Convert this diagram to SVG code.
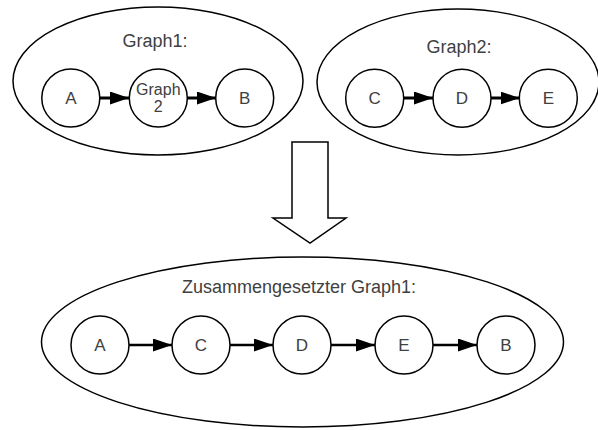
<svg xmlns="http://www.w3.org/2000/svg" width="598" height="430" viewBox="0 0 598 430">
<defs>
<style>
.ell{fill:none;stroke:#000;stroke-width:1.5}
.node circle{fill:#fff;stroke:#000;stroke-width:1.5}
text{font-family:"Liberation Sans",Arial,sans-serif;fill:#404040;text-anchor:middle}
.title{font-size:18px}
.lbl{font-size:17px}
.small{font-size:16px}
.conn{stroke:#000;stroke-width:3;fill:none}
.conn2{stroke:#000;stroke-width:2.5;fill:none}
</style>
<marker id="ah" markerUnits="userSpaceOnUse" markerWidth="20" markerHeight="14" refX="19" refY="6.5" orient="auto">
<path d="M0,0 L19,6.5 L0,13 z" fill="#000"/>
</marker>
</defs>
<rect width="598" height="430" fill="#fff"/>

<g id="graph1">
<ellipse class="ell" cx="158" cy="81" rx="145" ry="74"/>
<text class="title" x="155" y="47">Graph1:</text>
</g>
<g id="graph2">
<ellipse class="ell" cx="458" cy="82" rx="141" ry="73"/>
<text class="title" x="459" y="53">Graph2:</text>
</g>
<g id="composite">
<ellipse class="ell" cx="302.5" cy="342" rx="261" ry="85"/>
<text class="title" x="299" y="293">Zusammengesetzter Graph1:</text>
</g>

<g id="bigarrow">
<path d="M292,142 H328 V218 H346 L310,243 L273,218 H292 Z" fill="#fff" stroke="#000" stroke-width="1.5" stroke-linejoin="miter"/>
</g>

<g id="connectors">
<line class="conn" x1="100" y1="98" x2="129" y2="98" marker-end="url(#ah)"/>
<line class="conn" x1="187" y1="98" x2="216" y2="98" marker-end="url(#ah)"/>
<line class="conn" x1="404" y1="98" x2="433" y2="98" marker-end="url(#ah)"/>
<line class="conn" x1="491" y1="98" x2="519.5" y2="98" marker-end="url(#ah)"/>
<line class="conn2" x1="129" y1="345" x2="172" y2="345" marker-end="url(#ah)"/>
<line class="conn2" x1="230" y1="345" x2="273" y2="345" marker-end="url(#ah)"/>
<line class="conn2" x1="331" y1="345" x2="375" y2="345" marker-end="url(#ah)"/>
<line class="conn2" x1="433" y1="345" x2="477" y2="345" marker-end="url(#ah)"/>
</g>

<g id="g1-A" class="node"><circle cx="70.8" cy="98" r="29"/><text class="lbl" x="70.8" y="104">A</text></g>
<g id="g1-Graph2" class="node"><circle cx="158.3" cy="98" r="29"/><text class="small" x="158.3" y="94.5">Graph</text><text class="small" x="158.3" y="112">2</text></g>
<g id="g1-B" class="node"><circle cx="244.7" cy="98" r="29"/><text class="lbl" x="244.7" y="104">B</text></g>

<g id="g2-C" class="node"><circle cx="374.7" cy="98.3" r="29"/><text class="lbl" x="374.7" y="104.3">C</text></g>
<g id="g2-D" class="node"><circle cx="462" cy="98.3" r="29"/><text class="lbl" x="462" y="104.3">D</text></g>
<g id="g2-E" class="node"><circle cx="548.3" cy="98.3" r="29"/><text class="lbl" x="548.3" y="104.3">E</text></g>

<g id="c-A" class="node"><circle cx="100" cy="345" r="29"/><text class="lbl" x="100" y="351">A</text></g>
<g id="c-C" class="node"><circle cx="201" cy="345" r="29"/><text class="lbl" x="201" y="351">C</text></g>
<g id="c-D" class="node"><circle cx="302" cy="345" r="29"/><text class="lbl" x="302" y="351">D</text></g>
<g id="c-E" class="node"><circle cx="404" cy="345" r="29"/><text class="lbl" x="404" y="351">E</text></g>
<g id="c-B" class="node"><circle cx="506" cy="345" r="29"/><text class="lbl" x="506" y="351">B</text></g>
</svg>
